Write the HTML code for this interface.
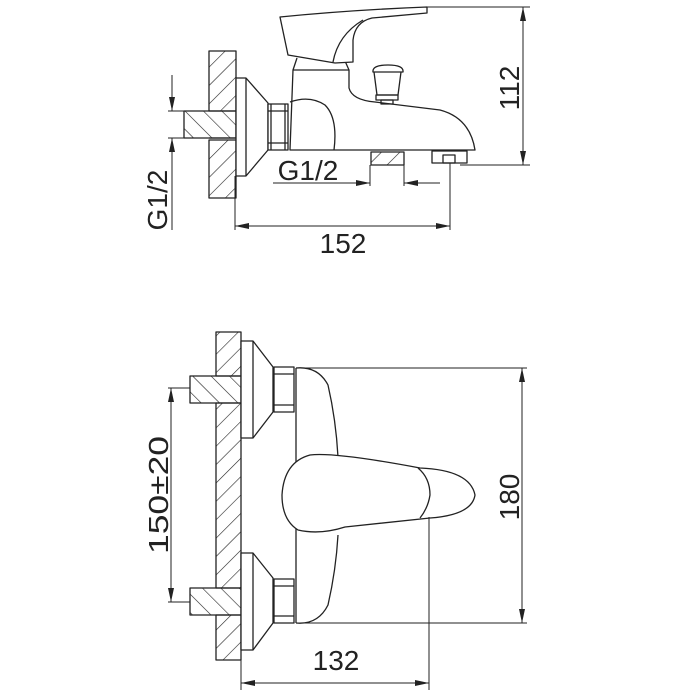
<!DOCTYPE html>
<html><head><meta charset="utf-8"><style>
html,body{margin:0;padding:0;background:#fff;}
svg{display:block;}
text{font-family:"Liberation Sans",Arial,sans-serif;fill:#222;}
</style></head><body>
<svg width="700" height="700" viewBox="0 0 700 700" xmlns="http://www.w3.org/2000/svg">
<defs>
<pattern id="hf" patternUnits="userSpaceOnUse" width="13" height="13" patternTransform="rotate(45)">
<line x1="0" y1="0" x2="0" y2="13" stroke="#222" stroke-width="1.2"/></pattern>
<pattern id="hb" patternUnits="userSpaceOnUse" width="13" height="13" patternTransform="rotate(-45)">
<line x1="0" y1="0" x2="0" y2="13" stroke="#222" stroke-width="1.2"/></pattern>
<marker id="ar" viewBox="0 0 14 6" refX="14" refY="3" markerWidth="14" markerHeight="6" markerUnits="userSpaceOnUse" orient="auto-start-reverse">
<path d="M0,0 L14,3 L0,6 Z" fill="#222"/></marker>
</defs>
<g fill="none" stroke="#222" stroke-width="1.3" stroke-linejoin="round">
<rect x="209" y="51" width="27" height="60" fill="url(#hf)"/>
<rect x="209" y="140" width="27" height="58" fill="url(#hf)"/>
<rect x="184" y="111" width="52" height="27" fill="url(#hb)"/>
<line x1="209" y1="138" x2="236" y2="138"/>
<polygon points="236,78 246,78 268,103 268,150 246,176 236,176" fill="#fff"/>
<line x1="246" y1="78" x2="246" y2="176"/>
<rect x="268" y="104" width="20" height="46" fill="#fff"/>
<line x1="268" y1="111" x2="288" y2="111"/>
<line x1="268" y1="143" x2="288" y2="143"/>
<line x1="271" y1="104" x2="271" y2="150"/>
<line x1="285" y1="104" x2="285" y2="150"/>
<path d="M293,70 L349,70 L349,88 Q352,100 375,102 L440,110 Q470,118 475,150 L290,150 Z" fill="#fff"/>
<path d="M290,102 Q310,95 325,105 Q338,118 334,150"/>
<path d="M297,58 L293,70 M345,61 L349,70"/>
<path d="M280,17 Q350,10 427,7 L427,13 L372,18 Q355,22 353,40 L353,62 L335,63 L288,55 Z" fill="#fff"/>
<path d="M363,20 Q338,35 333,62"/>
<path d="M373,72 Q372,65 388,65 Q404,65 403,72 Z" fill="#fff"/>
<path d="M374,72 L377,95 L398,95 L401,72"/>
<rect x="376" y="95" width="22" height="5"/>
<rect x="381" y="100" width="12" height="4"/>
<rect x="371" y="152" width="33" height="13" fill="url(#hf)"/>
<rect x="432" y="151" width="35" height="12"/>
<rect x="443" y="155" width="12" height="8"/>
<line x1="427" y1="7" x2="530" y2="7" stroke-width="1"/>
<line x1="460" y1="165" x2="530" y2="165" stroke-width="1"/>
<line x1="523" y1="7" x2="523" y2="165" stroke-width="1" marker-start="url(#ar)" marker-end="url(#ar)"/>
<line x1="370" y1="165" x2="370" y2="186" stroke-width="1"/>
<line x1="404" y1="165" x2="404" y2="186" stroke-width="1"/>
<line x1="273" y1="183" x2="370" y2="183" stroke-width="1" marker-end="url(#ar)"/>
<line x1="440" y1="183" x2="404" y2="183" stroke-width="1" marker-end="url(#ar)"/>
<line x1="235" y1="176" x2="235" y2="230" stroke-width="1"/>
<line x1="450" y1="163" x2="450" y2="230" stroke-width="1"/>
<line x1="235" y1="226" x2="450" y2="226" stroke-width="1" marker-start="url(#ar)" marker-end="url(#ar)"/>
<line x1="168" y1="111" x2="184" y2="111" stroke-width="1"/>
<line x1="168" y1="138" x2="184" y2="138" stroke-width="1"/>
<line x1="172" y1="75" x2="172" y2="111" stroke-width="1" marker-end="url(#ar)"/>
<line x1="172" y1="230" x2="172" y2="138" stroke-width="1" marker-end="url(#ar)"/>

<rect x="216" y="332" width="25" height="44" fill="url(#hf)"/>
<rect x="216" y="403" width="25" height="185" fill="url(#hf)"/>
<rect x="216" y="615" width="25" height="45" fill="url(#hf)"/>
<rect x="190" y="376" width="51" height="27" fill="url(#hb)"/>
<rect x="190" y="588" width="51" height="27" fill="url(#hb)"/>
<polygon points="241,341 253,341 273,367 273,412 253,438 241,438" fill="#fff"/>
<line x1="253" y1="341" x2="253" y2="438"/>
<polygon points="241,553 253,553 273,578 273,623 253,650 241,650" fill="#fff"/>
<line x1="253" y1="553" x2="253" y2="650"/>
<rect x="274" y="367" width="20" height="45" fill="#fff"/>
<line x1="274" y1="374" x2="294" y2="374"/><line x1="274" y1="405" x2="294" y2="405"/>
<rect x="274" y="579" width="20" height="44" fill="#fff"/>
<line x1="274" y1="586" x2="294" y2="586"/><line x1="274" y1="616" x2="294" y2="616"/>
<path d="M296,368 L296,623"/>
<path d="M296,368 Q318,366 328,385 Q336,420 338,457"/>
<path d="M296,623 Q318,625 328,605 Q336,570 338,535"/>
<path d="M310,455 Q335,452 420,468 Q470,470 475,495 Q472,515 430,518 L345,527 Q320,535 298,530 Q282,520 282,495 Q284,462 310,455 Z" fill="#fff"/>
<path d="M418,468 Q430,478 430,495 Q428,508 420,518"/>
<line x1="296" y1="368" x2="527" y2="368" stroke-width="1"/>
<line x1="296" y1="623" x2="527" y2="623" stroke-width="1"/>
<line x1="522" y1="368" x2="522" y2="623" stroke-width="1" marker-start="url(#ar)" marker-end="url(#ar)"/>
<line x1="168" y1="388" x2="190" y2="388" stroke-width="1"/>
<line x1="168" y1="602" x2="190" y2="602" stroke-width="1"/>
<line x1="171" y1="388" x2="171" y2="602" stroke-width="1" marker-start="url(#ar)" marker-end="url(#ar)"/>
<line x1="241" y1="660" x2="241" y2="690" stroke-width="1"/>
<line x1="429" y1="517" x2="429" y2="690" stroke-width="1"/>
<line x1="241" y1="683" x2="429" y2="683" stroke-width="1" marker-start="url(#ar)" marker-end="url(#ar)"/>
</g>
<g font-size="28">
<text x="343" y="253" text-anchor="middle">152</text>
<text x="308" y="180" text-anchor="middle">G1/2</text>
<text transform="translate(519,88) rotate(-90)" text-anchor="middle">112</text>
<text transform="translate(167,200) rotate(-90)" text-anchor="middle">G1/2</text>
<text x="336" y="670" text-anchor="middle">132</text>
<text transform="translate(519,497) rotate(-90)" text-anchor="middle">180</text>
<text transform="translate(168,495) rotate(-90)" text-anchor="middle" textLength="118" lengthAdjust="spacingAndGlyphs">150±20</text>
</g>
</svg>
</body></html>
